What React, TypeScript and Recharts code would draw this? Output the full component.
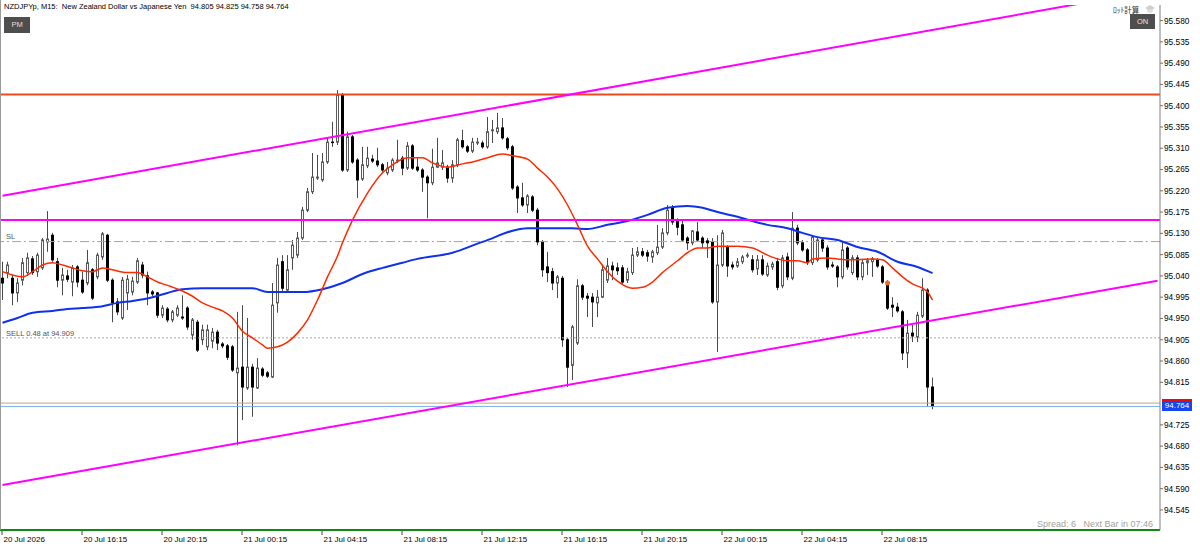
import React from "react";
import {
  ComposedChart,
  Bar,
  Line,
  XAxis,
  YAxis,
  ReferenceLine,
  ReferenceDot,
} from "recharts";

// NZDJPYp M15 candles (one entry per bar)
const opens = [
  95.035, 95.047, 95.035, 95.004, 95.031, 95.047, 95.076, 95.049, 95.057, 95.112,
  95.126, 95.070, 95.031, 95.040, 95.027, 95.059, 95.031, 95.025, 95.053, 95.038,
  95.080, 95.126, 95.031, 94.985, 94.951, 95.004, 95.006, 95.027, 95.063, 95.040,
  95.006, 95.004, 94.957, 94.970, 94.947, 94.957, 94.953, 94.972, 94.915, 94.942,
  94.905, 94.890, 94.902, 94.921, 94.896, 94.892, 94.890, 94.835, 94.847, 94.803,
  94.847, 94.803, 94.843, 94.835, 94.826, 94.983, 95.070, 95.010, 95.078, 95.084,
  95.120, 95.179, 95.218, 95.247, 95.243, 95.281, 95.323, 95.323, 95.423, 95.264,
  95.334, 95.285, 95.245, 95.273, 95.287, 95.283, 95.275, 95.258, 95.264, 95.283,
  95.289, 95.268, 95.315, 95.270, 95.264, 95.249, 95.237, 95.270, 95.270, 95.270,
  95.247, 95.275, 95.326, 95.313, 95.304, 95.321, 95.321, 95.313, 95.347, 95.345,
  95.353, 95.330, 95.313, 95.228, 95.205, 95.190, 95.207, 95.179, 95.112, 95.059,
  95.049, 95.025, 95.035, 94.905, 94.851, 94.898, 95.019, 94.997, 94.995, 94.983,
  94.995, 95.031, 95.061, 95.057, 95.057, 95.031, 95.047, 95.084, 95.091, 95.089,
  95.080, 95.089, 95.101, 95.131, 95.184, 95.158, 95.148, 95.120, 95.110, 95.133,
  95.120, 95.114, 95.112, 94.985, 95.063, 95.101, 95.063, 95.061, 95.070, 95.082,
  95.074, 95.055, 95.074, 95.042, 95.059, 95.070, 95.019, 95.080, 95.035, 95.141,
  95.110, 95.095, 95.068, 95.074, 95.116, 95.099, 95.063, 95.059, 95.038, 95.099,
  95.047, 95.078, 95.038, 95.068, 95.070, 95.074, 95.059, 95.025, 94.978, 94.974,
  94.964, 94.877, 94.919, 94.911, 94.955, 95.010, 94.805,
];
const highs = [
  95.070, 95.070, 95.042, 95.035, 95.078, 95.089, 95.082, 95.089, 95.120, 95.177,
  95.131, 95.078, 95.057, 95.053, 95.063, 95.063, 95.049, 95.095, 95.057, 95.089,
  95.133, 95.129, 95.035, 94.993, 95.038, 95.042, 95.038, 95.078, 95.070, 95.049,
  95.010, 95.006, 94.978, 94.974, 94.968, 94.978, 94.999, 94.976, 94.951, 94.947,
  94.937, 94.937, 94.930, 94.926, 94.900, 94.896, 94.894, 94.964, 94.978, 94.951,
  94.854, 94.866, 94.847, 94.839, 95.025, 95.078, 95.084, 95.084, 95.116, 95.133,
  95.186, 95.226, 95.300, 95.296, 95.300, 95.332, 95.366, 95.433, 95.427, 95.345,
  95.338, 95.289, 95.313, 95.313, 95.296, 95.311, 95.279, 95.281, 95.289, 95.328,
  95.294, 95.323, 95.319, 95.289, 95.268, 95.253, 95.309, 95.332, 95.306, 95.275,
  95.285, 95.332, 95.349, 95.317, 95.332, 95.332, 95.326, 95.376, 95.370, 95.385,
  95.374, 95.334, 95.317, 95.232, 95.237, 95.213, 95.211, 95.184, 95.116, 95.091,
  95.057, 95.042, 95.040, 94.909, 94.936, 95.033, 95.023, 95.004, 95.004, 95.010,
  95.063, 95.078, 95.070, 95.068, 95.063, 95.057, 95.099, 95.101, 95.099, 95.095,
  95.095, 95.148, 95.141, 95.190, 95.190, 95.162, 95.158, 95.124, 95.137, 95.154,
  95.124, 95.120, 95.120, 95.126, 95.137, 95.105, 95.070, 95.078, 95.084, 95.089,
  95.084, 95.084, 95.084, 95.068, 95.070, 95.078, 95.084, 95.089, 95.175, 95.148,
  95.116, 95.099, 95.126, 95.122, 95.120, 95.105, 95.070, 95.063, 95.112, 95.103,
  95.084, 95.084, 95.074, 95.078, 95.080, 95.078, 95.063, 95.031, 94.995, 94.983,
  94.968, 94.947, 94.936, 94.964, 95.035, 95.014, 94.825,
];
const lows = [
  94.989, 95.035, 94.978, 94.985, 95.020, 95.040, 95.042, 95.038, 95.053, 95.091,
  95.070, 95.016, 94.999, 95.027, 94.997, 95.016, 95.002, 95.020, 94.989, 95.033,
  95.074, 95.027, 94.942, 94.957, 94.947, 94.968, 94.999, 95.023, 95.035, 94.978,
  94.997, 94.951, 94.951, 94.942, 94.942, 94.953, 94.947, 94.926, 94.905, 94.879,
  94.894, 94.883, 94.887, 94.883, 94.887, 94.862, 94.837, 94.682, 94.735, 94.799,
  94.742, 94.801, 94.826, 94.824, 94.824, 94.962, 95.006, 95.006, 95.053, 95.078,
  95.116, 95.175, 95.213, 95.243, 95.239, 95.277, 95.313, 95.317, 95.260, 95.260,
  95.277, 95.205, 95.241, 95.268, 95.279, 95.270, 95.260, 95.253, 95.260, 95.279,
  95.253, 95.264, 95.264, 95.260, 95.218, 95.162, 95.232, 95.268, 95.264, 95.237,
  95.237, 95.270, 95.309, 95.300, 95.300, 95.317, 95.309, 95.309, 95.321, 95.340,
  95.328, 95.306, 95.222, 95.173, 95.186, 95.173, 95.175, 95.105, 95.038, 95.027,
  95.010, 94.993, 94.890, 94.805, 94.820, 94.894, 94.989, 94.953, 94.932, 94.953,
  94.993, 95.025, 95.031, 95.042, 95.023, 95.025, 95.042, 95.080, 95.080, 95.070,
  95.068, 95.084, 95.097, 95.126, 95.148, 95.126, 95.112, 95.095, 95.105, 95.112,
  95.099, 95.078, 94.981, 94.879, 95.059, 95.038, 95.053, 95.057, 95.065, 95.078,
  95.047, 95.042, 95.040, 95.038, 95.053, 95.010, 95.014, 95.031, 95.031, 95.105,
  95.091, 95.063, 95.063, 95.070, 95.091, 95.053, 95.057, 95.016, 95.033, 95.053,
  95.042, 95.031, 95.031, 95.042, 95.038, 95.057, 95.023, 94.968, 94.953, 94.962,
  94.862, 94.845, 94.900, 94.900, 94.951, 94.763, 94.758,
];
const closes = [
  95.025, 95.063, 95.004, 95.025, 95.068, 95.078, 95.047, 95.084, 95.116, 95.118,
  95.074, 95.031, 95.042, 95.033, 95.057, 95.027, 95.006, 95.068, 94.993, 95.084,
  95.129, 95.031, 94.983, 94.964, 95.031, 95.033, 95.029, 95.072, 95.042, 95.004,
  95.002, 94.957, 94.972, 94.947, 94.964, 94.972, 94.951, 94.932, 94.947, 94.883,
  94.926, 94.926, 94.921, 94.898, 94.892, 94.868, 94.841, 94.845, 94.805, 94.847,
  94.805, 94.845, 94.830, 94.828, 94.978, 95.063, 95.014, 95.053, 95.105, 95.120,
  95.179, 95.218, 95.249, 95.249, 95.281, 95.323, 95.322, 95.423, 95.264, 95.334,
  95.281, 95.243, 95.275, 95.289, 95.283, 95.275, 95.264, 95.268, 95.285, 95.285,
  95.268, 95.315, 95.268, 95.264, 95.249, 95.237, 95.270, 95.279, 95.279, 95.247,
  95.275, 95.328, 95.313, 95.304, 95.323, 95.323, 95.313, 95.345, 95.349, 95.353,
  95.332, 95.311, 95.226, 95.205, 95.190, 95.209, 95.179, 95.112, 95.053, 95.047,
  95.025, 95.038, 94.905, 94.847, 94.932, 95.019, 94.995, 94.993, 94.985, 94.995,
  95.053, 95.061, 95.053, 95.051, 95.027, 95.049, 95.084, 95.091, 95.084, 95.082,
  95.091, 95.101, 95.131, 95.179, 95.154, 95.143, 95.116, 95.110, 95.135, 95.116,
  95.110, 95.110, 94.985, 95.063, 95.131, 95.061, 95.059, 95.070, 95.080, 95.084,
  95.053, 95.074, 95.044, 95.061, 95.065, 95.016, 95.078, 95.038, 95.141, 95.110,
  95.095, 95.068, 95.122, 95.116, 95.099, 95.059, 95.061, 95.038, 95.095, 95.059,
  95.078, 95.038, 95.068, 95.072, 95.076, 95.061, 95.027, 94.972, 94.974, 94.966,
  94.877, 94.919, 94.913, 94.957, 95.010, 94.805, 94.764,
];

// moving averages, sampled along the drawn lines: [bar index, price]
const redMa: [number, number][] = [
  [0, 95.049], [4, 95.038], [6, 95.049], [8, 95.063], [10, 95.068], [12, 95.063],
  [14, 95.057], [16, 95.051], [18, 95.049], [20, 95.057], [22, 95.053], [25, 95.047],
  [27, 95.047], [29, 95.038], [31, 95.027], [33, 95.02], [36, 95.008], [38, 94.997],
  [40, 94.983], [42, 94.974], [44, 94.966], [46, 94.951], [48, 94.923], [50, 94.909],
  [52, 94.894], [53, 94.887], [55, 94.89], [57, 94.9], [59, 94.919], [61, 94.947],
  [63, 94.989], [65, 95.038], [67, 95.082], [68, 95.11], [70, 95.158], [73, 95.215],
  [76, 95.258], [78, 95.275], [81, 95.29], [84, 95.29], [86, 95.279], [89, 95.27],
  [92, 95.277], [94, 95.281], [97, 95.29], [100, 95.298], [102, 95.294], [105, 95.287],
  [107, 95.268], [109, 95.249], [111, 95.224], [113, 95.19], [115, 95.148], [117, 95.103],
  [119, 95.076], [121, 95.049], [123, 95.029], [126, 95.014], [128, 95.016], [130, 95.027],
  [132, 95.047], [135, 95.072], [137, 95.089], [139, 95.099], [141, 95.099], [143, 95.103],
  [145, 95.103], [147, 95.103], [150, 95.099], [153, 95.084], [155, 95.076], [157, 95.072],
  [159, 95.072], [161, 95.068], [162, 95.076], [165, 95.078], [167, 95.076], [169, 95.074],
  [171, 95.074], [174, 95.076], [176, 95.074], [178, 95.057], [180, 95.038], [182, 95.023],
  [184, 95.014], [185, 95.006], [186, 94.989],
];
const blueMa: [number, number][] = [
  [0, 94.941], [3, 94.951], [6, 94.962], [10, 94.966], [13, 94.97], [16, 94.972],
  [20, 94.976], [23, 94.983], [26, 94.987], [30, 94.995], [33, 95.004], [36, 95.012],
  [40, 95.014], [44, 95.014], [50, 95.014], [53, 95.006], [56, 95.006], [60, 95.006],
  [64, 95.012], [68, 95.025], [72, 95.044], [76, 95.057], [80, 95.068], [83, 95.076],
  [90, 95.089], [96, 95.112], [105, 95.141], [107, 95.141], [114, 95.141], [117, 95.139],
  [121, 95.148], [125, 95.156], [129, 95.169], [133, 95.184], [137, 95.188], [140, 95.184],
  [143, 95.175], [147, 95.165], [150, 95.156], [153, 95.148], [157, 95.141], [160, 95.131],
  [163, 95.122], [167, 95.116], [171, 95.101], [175, 95.091], [179, 95.07], [183, 95.059],
  [186, 95.046],
];

// channel lines: price at first and last slot of the chart
const upperChannel = [95.2095, 95.6452];
const lowerChannel = [94.598, 95.03];

const resistanceLevel = 95.4235;
const magentaLevel = 95.1585;
const slLevel = 95.1126;
const sellLevel = 94.909;
const askLevel = 94.771;
const bidLevel = 94.764;
const entryBar = 177;
const entryPrice = 95.025;

const yTicks = [
  95.58, 95.535, 95.49, 95.445, 95.4, 95.355, 95.31, 95.265, 95.22, 95.175, 95.13,
  95.085, 95.04, 94.995, 94.95, 94.905, 94.86, 94.815, 94.725, 94.68, 94.635, 94.59,
  94.545,
];
const xLabels = [
  "20 Jul 2026", "20 Jul 16:15", "20 Jul 20:15", "21 Jul 00:15", "21 Jul 04:15",
  "21 Jul 08:15", "21 Jul 12:15", "21 Jul 16:15", "21 Jul 20:15", "22 Jul 00:15",
  "22 Jul 04:15", "22 Jul 08:15",
];
const BARS_PER_LABEL = 16;

const SLOTS = 232; // visible bar slots incl. empty space on the right
const Y_MIN = 94.5026;
const Y_MAX = 95.613;
const FONT = "'Liberation Sans', Arial, sans-serif";

const rows = Array.from({ length: SLOTS }, (_, i) => {
  const has = i < opens.length;
  return {
    i,
    range: has ? [lows[i], highs[i]] : null,
    o: has ? opens[i] : null,
    h: has ? highs[i] : null,
    l: has ? lows[i] : null,
    c: has ? closes[i] : null,
    red: null as number | null,
    blue: null as number | null,
    up: i === 0 ? upperChannel[0] : i === SLOTS - 1 ? upperChannel[1] : null,
    dn: i === 0 ? lowerChannel[0] : i === SLOTS - 1 ? lowerChannel[1] : null,
  };
});
redMa.forEach(([i, v]) => (rows[i].red = v));
blueMa.forEach(([i, v]) => (rows[i].blue = v));

const xTickIdx = xLabels.map((_, k) => k * BARS_PER_LABEL);

function Candle(props: any) {
  const { x, y, width, height, payload } = props;
  if (!payload || payload.o == null) return null;
  const { o, h, l, c } = payload;
  const top = Math.min(y, y + height);
  const span = Math.abs(height);
  const k = h > l ? span / (h - l) : 0;
  const cx = Math.floor(x + width / 2);
  const bTop = top + (h - Math.max(o, c)) * k;
  const bBot = top + (h - Math.min(o, c)) * k;
  const bull = c > o;
  return (
    <g>
      <line x1={cx + 0.5} x2={cx + 0.5} y1={top} y2={top + span} stroke="#4a4a4a" strokeWidth={1} />
      <rect
        x={cx - 0.5}
        y={bTop}
        width={2}
        height={Math.max(bBot - bTop, 0.5)}
        fill={bull ? "#ffffff" : "#000000"}
        stroke={bull ? "#5a5a5a" : "#000000"}
        strokeWidth={1}
      />
    </g>
  );
}

function TimeTick(props: any) {
  const { x, y, payload } = props;
  const label = xLabels[Math.round(payload.value / BARS_PER_LABEL)];
  return (
    <g>
      <line x1={x - 0.5} x2={x - 0.5} y1={y + 1} y2={y + 5} stroke="#404040" />
      <text x={x + 1} y={y + 12} fontSize={8} fontFamily={FONT} fill="#000" textAnchor="start">
        {label}
      </text>
    </g>
  );
}

const smallText: React.CSSProperties = {
  position: "absolute",
  fontFamily: FONT,
  fontSize: 7.5,
  lineHeight: "9px",
  whiteSpace: "pre",
};

export default function App() {
  return (
    <div style={{ position: "absolute", left: 0, top: 0, width: 1200, height: 546, background: "#fff", overflow: "hidden" }}>
      <ComposedChart
        width={1200}
        height={546}
        data={rows}
        margin={{ top: 5, right: 0, bottom: 0, left: 0 }}
        barCategoryGap={0}
        barGap={0}
      >
        <XAxis
          dataKey="i"
          type="category"
          ticks={xTickIdx}
          interval={0}
          tick={(p: any) => <TimeTick {...p} />}
          tickLine={false}
          tickSize={0}
          tickMargin={0}
          axisLine={{ stroke: "#128a12", strokeWidth: 2 }}
          height={16}
        />
        <YAxis
          orientation="right"
          type="number"
          width={40}
          domain={[Y_MIN, Y_MAX]}
          allowDataOverflow
          ticks={yTicks}
          interval={0}
          tickSize={3}
          tickMargin={1}
          tickLine={{ stroke: "#707070" }}
          axisLine={{ stroke: "#808080" }}
          tick={{ fontSize: 8.3, fill: "#000", fontFamily: FONT }}
          tickFormatter={(v: number) => v.toFixed(3)}
        />
        <ReferenceLine y={sellLevel} stroke="#a8a8a8" strokeDasharray="2 2" />
        <ReferenceLine y={slLevel} stroke="#c89a70" strokeDasharray="9 3 2 3" />
        <ReferenceLine y={askLevel} stroke="#c8a07c" />
        <ReferenceLine y={bidLevel} stroke="#78b0e6" />
        <Bar dataKey="range" shape={(p: any) => <Candle {...p} />} isAnimationActive={false} />
        <Line dataKey="blue" type="monotone" stroke="#1030f0" strokeWidth={2} dot={false} connectNulls isAnimationActive={false} />
        <Line dataKey="red" type="monotone" stroke="#ff2a00" strokeWidth={1.5} dot={false} connectNulls isAnimationActive={false} />
        <ReferenceLine y={resistanceLevel} stroke="#ee4a1e" strokeWidth={2} />
        <ReferenceLine y={magentaLevel} stroke="#ff00ff" strokeWidth={2} />
        <Line dataKey="up" type="linear" stroke="#ff00ff" strokeWidth={2} dot={false} connectNulls isAnimationActive={false} />
        <Line dataKey="dn" type="linear" stroke="#ff00ff" strokeWidth={2} dot={false} connectNulls isAnimationActive={false} />
        <ReferenceDot x={entryBar} y={entryPrice} r={2.5} fill="#f06a28" stroke="none" />
      </ComposedChart>

      {/* chart frame, left edge */}
      <div style={{ position: "absolute", left: 0, top: 0, width: 1, height: 530, background: "#9a9a9a" }} />

      <div style={{ ...smallText, left: 4, top: 2, color: "#000" }}>
        {"NZDJPYp, M15:  New Zealand Dollar vs Japanese Yen  94.805 94.825 94.758 94.764"}
      </div>
      <div
        style={{
          ...smallText,
          left: 4,
          top: 17,
          width: 26,
          height: 16,
          lineHeight: "16px",
          textAlign: "center",
          background: "#4e4e4e",
          color: "#f2dcd4",
        }}
      >
        PM
      </div>

      <div style={{ ...smallText, left: 1113, top: 5, color: "#303030", fontFamily: "'Noto Sans CJK JP', sans-serif" }}>
        ﾛｯﾄ計算
      </div>
      <svg style={{ position: "absolute", left: 1144, top: 4 }} width={12} height={10}>
        <path d="M1 4 L6 1 L11 4 L6 7 Z" fill="#d0d0d0" />
        <path d="M3 5.5 L3 8 Q6 10 9 8 L9 5.5" fill="#e0e0e0" />
      </svg>
      <div
        style={{
          ...smallText,
          left: 1130,
          top: 14,
          width: 25,
          height: 15,
          lineHeight: "15px",
          textAlign: "center",
          background: "#4e4e4e",
          color: "#e8e8e8",
        }}
      >
        ON
      </div>

      <div style={{ ...smallText, left: 6, top: 232, color: "#555" }}>SL</div>
      <div style={{ ...smallText, left: 6, top: 329, color: "#555" }}>SELL 0.48 at 94.909</div>

      <div style={{ ...smallText, right: 47, top: 519, fontSize: 9, lineHeight: "10px", color: "#a0a0a0" }}>
        {"Spread: 6   Next Bar in 07:46"}
      </div>

      <div style={{ position: "absolute", left: 1162, top: 399, width: 30, height: 2, background: "#e01010" }} />
      <div
        style={{
          ...smallText,
          left: 1162,
          top: 401,
          width: 30,
          height: 10,
          lineHeight: "10px",
          fontSize: 8,
          textAlign: "center",
          background: "#1446f5",
          color: "#fff",
        }}
      >
        94.764
      </div>
    </div>
  );
}
